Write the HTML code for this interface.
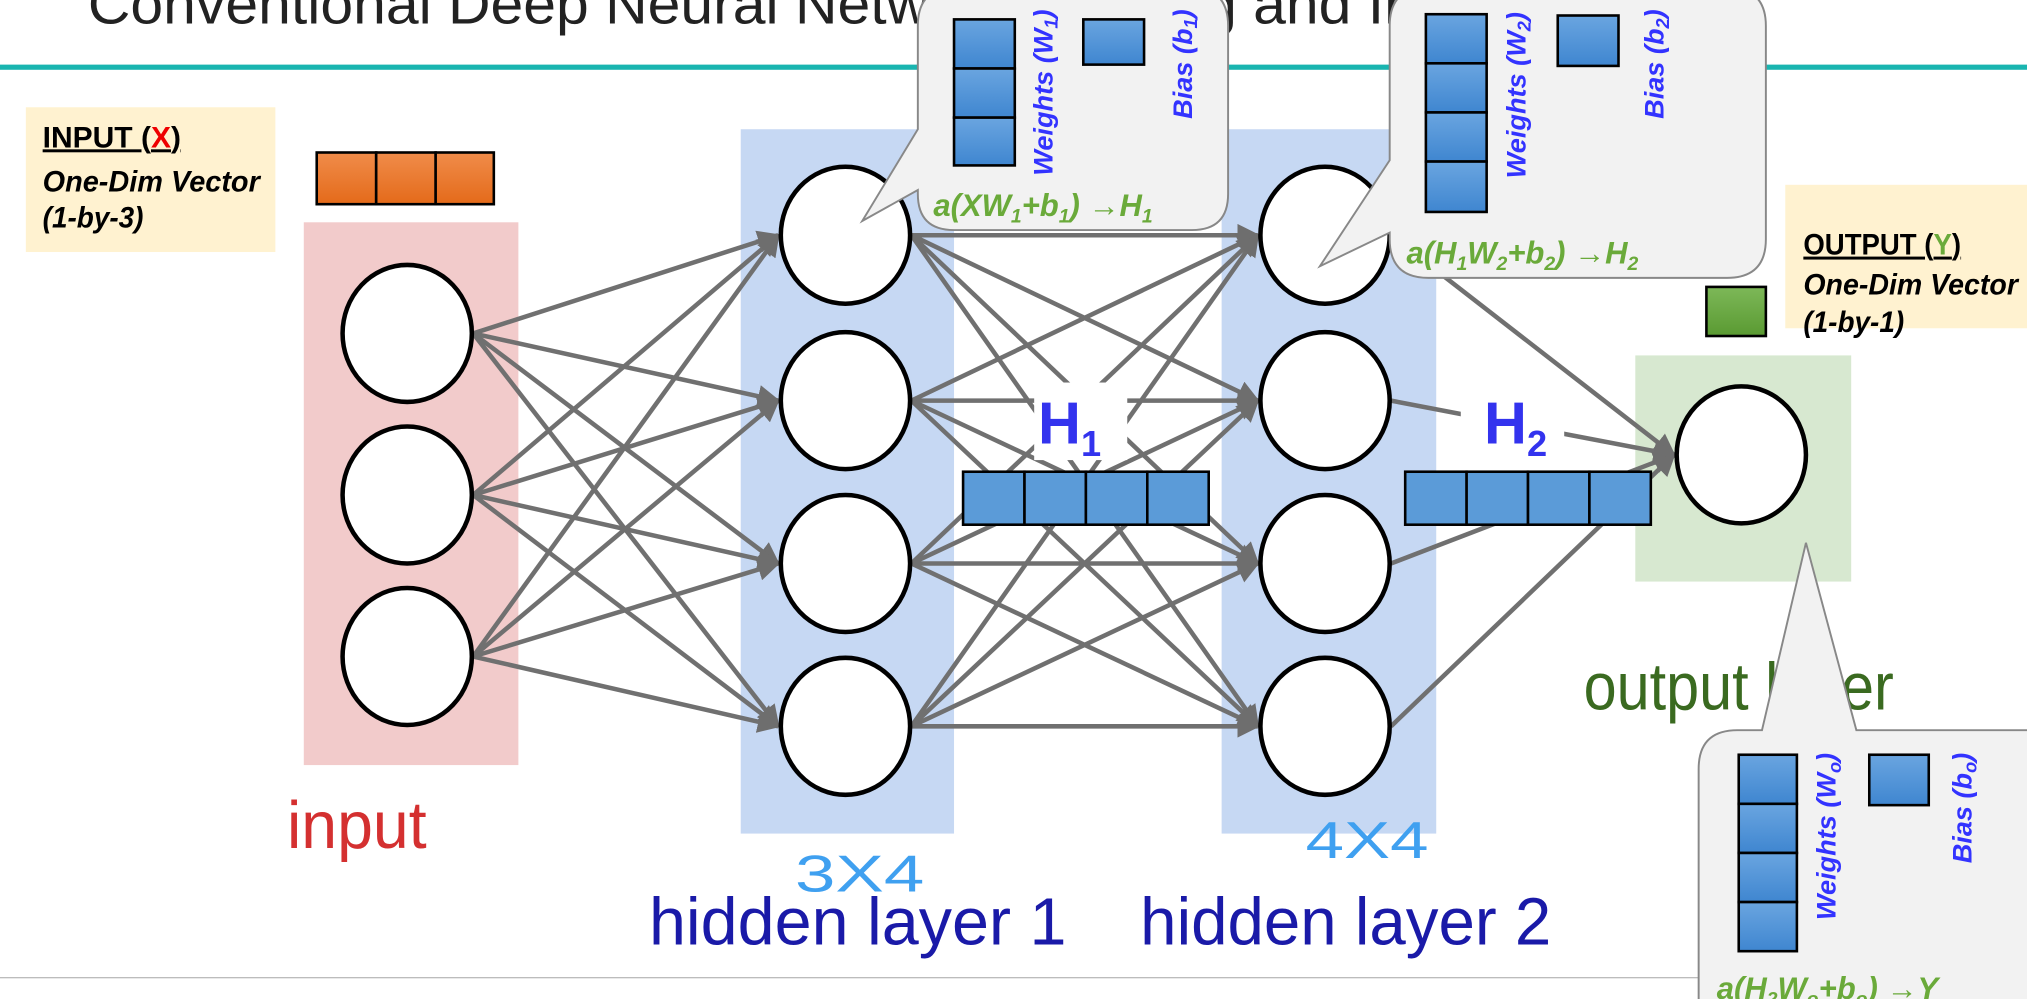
<!DOCTYPE html>
<html><head><meta charset="utf-8"><style>html,body{margin:0;padding:0;background:#fff;overflow:hidden}</style></head>
<body>
<svg width="2027" height="999" viewBox="0 0 1568 773" preserveAspectRatio="none" xmlns="http://www.w3.org/2000/svg" font-family="Liberation Sans, sans-serif">
<defs>
<marker id="ar" viewBox="0 0 10 10" refX="9" refY="5" markerWidth="5" markerHeight="5" orient="auto" markerUnits="strokeWidth"><path d="M0,0 L10,5 L0,10 z" fill="#6e6e6e"/></marker>
<linearGradient id="bl" x1="0" y1="0" x2="0" y2="1"><stop offset="0" stop-color="#6aa5e0"/><stop offset="1" stop-color="#3f86d0"/></linearGradient>
<linearGradient id="or" x1="0" y1="0" x2="0" y2="1"><stop offset="0" stop-color="#f08c4a"/><stop offset="1" stop-color="#e46a1a"/></linearGradient>
<linearGradient id="gr" x1="0" y1="0" x2="0" y2="1"><stop offset="0" stop-color="#7db858"/><stop offset="1" stop-color="#5a9a32"/></linearGradient>
</defs>
<text x="68" y="18" font-size="44" fill="#222" textLength="1180" lengthAdjust="spacingAndGlyphs">Conventional Deep Neural Network Training and Inference</text>
<rect x="0" y="50" width="1568" height="4" fill="#19b5b0"/>
<rect x="0" y="756" width="1568" height="1" fill="#bbb"/>
<rect x="235" y="172" width="166" height="420" fill="#f2cbcb"/>
<rect x="573" y="100" width="165" height="545" fill="#c6d8f3"/>
<rect x="945" y="100" width="166" height="545" fill="#c6d8f3"/>
<rect x="1265" y="275" width="167" height="175" fill="#d7e8d0"/>
<g stroke="#707070" stroke-width="3.5" marker-end="url(#ar)" fill="none">
<line x1="366" y1="258" x2="602" y2="182"/><line x1="366" y1="258" x2="602" y2="310"/><line x1="366" y1="258" x2="602" y2="436"/><line x1="366" y1="258" x2="602" y2="562"/>
<line x1="366" y1="383" x2="602" y2="182"/><line x1="366" y1="383" x2="602" y2="310"/><line x1="366" y1="383" x2="602" y2="436"/><line x1="366" y1="383" x2="602" y2="562"/>
<line x1="366" y1="508" x2="602" y2="182"/><line x1="366" y1="508" x2="602" y2="310"/><line x1="366" y1="508" x2="602" y2="436"/><line x1="366" y1="508" x2="602" y2="562"/>
<line x1="705" y1="182" x2="973" y2="182"/><line x1="705" y1="182" x2="973" y2="310"/><line x1="705" y1="182" x2="973" y2="436"/><line x1="705" y1="182" x2="973" y2="562"/>
<line x1="705" y1="310" x2="973" y2="182"/><line x1="705" y1="310" x2="973" y2="310"/><line x1="705" y1="310" x2="973" y2="436"/><line x1="705" y1="310" x2="973" y2="562"/>
<line x1="705" y1="436" x2="973" y2="182"/><line x1="705" y1="436" x2="973" y2="310"/><line x1="705" y1="436" x2="973" y2="436"/><line x1="705" y1="436" x2="973" y2="562"/>
<line x1="705" y1="562" x2="973" y2="182"/><line x1="705" y1="562" x2="973" y2="310"/><line x1="705" y1="562" x2="973" y2="436"/><line x1="705" y1="562" x2="973" y2="562"/>
<line x1="1076" y1="182" x2="1295" y2="352"/><line x1="1076" y1="310" x2="1295" y2="352"/><line x1="1076" y1="436" x2="1295" y2="352"/><line x1="1076" y1="562" x2="1295" y2="352"/>
</g>
<g fill="#fff" stroke="#000" stroke-width="3.5">
<ellipse cx="315" cy="258" rx="50" ry="53"/><ellipse cx="315" cy="383" rx="50" ry="53"/><ellipse cx="315" cy="508" rx="50" ry="53"/>
<ellipse cx="654" cy="182" rx="50" ry="53"/><ellipse cx="654" cy="310" rx="50" ry="53"/><ellipse cx="654" cy="436" rx="50" ry="53"/><ellipse cx="654" cy="562" rx="50" ry="53"/>
<ellipse cx="1025" cy="182" rx="50" ry="53"/><ellipse cx="1025" cy="310" rx="50" ry="53"/><ellipse cx="1025" cy="436" rx="50" ry="53"/><ellipse cx="1025" cy="562" rx="50" ry="53"/>
<ellipse cx="1347" cy="352" rx="50" ry="53"/>
</g>
<text x="222" y="656" font-size="52" fill="#d43030" textLength="108" lengthAdjust="spacingAndGlyphs">input</text>
<text x="502" y="731" font-size="52" fill="#1a1aa8" textLength="323" lengthAdjust="spacingAndGlyphs">hidden layer 1</text>
<text x="882" y="731" font-size="52" fill="#1a1aa8" textLength="318" lengthAdjust="spacingAndGlyphs">hidden layer 2</text>
<text x="1225" y="549" font-size="52" fill="#3a6a20" textLength="240" lengthAdjust="spacingAndGlyphs">output layer</text>
<text x="615" y="690" font-size="40" fill="#3fa0f0" textLength="100" lengthAdjust="spacingAndGlyphs">3X4</text>
<text x="1010" y="664" font-size="40" fill="#3fa0f0" textLength="95" lengthAdjust="spacingAndGlyphs">4X4</text>
<rect x="800" y="296" width="72" height="60" fill="#fff"/>
<text x="803" y="343" font-size="46" font-weight="bold" fill="#3333ee">H<tspan font-size="28" dy="10">1</tspan></text>
<rect x="1130" y="296" width="80" height="60" fill="#fff"/>
<text x="1148" y="343" font-size="46" font-weight="bold" fill="#3333ee">H<tspan font-size="28" dy="10">2</tspan></text>
<g fill="#5b9bd8" stroke="#000" stroke-width="2">
<rect x="745" y="365" width="47.5" height="41"/><rect x="792.5" y="365" width="47.5" height="41"/><rect x="840" y="365" width="47.5" height="41"/><rect x="887.5" y="365" width="47.5" height="41"/>
<rect x="1087" y="365" width="47.5" height="41"/><rect x="1134.5" y="365" width="47.5" height="41"/><rect x="1182" y="365" width="47.5" height="41"/><rect x="1229.5" y="365" width="47.5" height="41"/>
</g>
<rect x="20" y="83" width="193" height="112" fill="#fff2d0"/>
<g font-size="23" font-weight="bold" fill="#000">
<text x="33" y="114" text-decoration="underline" textLength="107" lengthAdjust="spacingAndGlyphs">INPUT (<tspan fill="#e00">X</tspan>)</text>
<text x="33" y="148" font-style="italic" textLength="168" lengthAdjust="spacingAndGlyphs">One-Dim Vector</text>
<text x="33" y="176" font-style="italic" textLength="78" lengthAdjust="spacingAndGlyphs">(1-by-3)</text>
</g>
<g stroke="#000" stroke-width="2" fill="url(#or)">
<rect x="245" y="118" width="46" height="40"/><rect x="291" y="118" width="46" height="40"/><rect x="337" y="118" width="45" height="40"/>
</g>
<rect x="1381" y="143" width="190" height="111" fill="#fff2d0"/>
<g font-size="23" font-weight="bold" fill="#000">
<text x="1395" y="197" text-decoration="underline" textLength="122" lengthAdjust="spacingAndGlyphs">OUTPUT (<tspan fill="#6aaa3a">Y</tspan>)</text>
<text x="1395" y="228" font-style="italic" textLength="166" lengthAdjust="spacingAndGlyphs">One-Dim Vector</text>
<text x="1395" y="257" font-style="italic" textLength="78" lengthAdjust="spacingAndGlyphs">(1-by-1)</text>
</g>
<rect x="1320" y="222" width="46" height="38" fill="url(#gr)" stroke="#000" stroke-width="2"/>
<path d="M740,-10 H920 Q950,-10 950,20 V150 Q950,178 922,178 H738 Q710,178 710,150 V147 L667,171 L710,100 V20 Q710,-10 740,-10 Z" fill="#f2f2f2" stroke="#888" stroke-width="1.5"/>
<g fill="url(#bl)" stroke="#000" stroke-width="2">
<rect x="738" y="15" width="47" height="38"/><rect x="738" y="53" width="47" height="38"/><rect x="738" y="91" width="47" height="37"/>
<rect x="838" y="15" width="47" height="35"/>
</g>
<g font-size="21" font-weight="bold" font-style="italic" fill="#3333ff">
<text transform="translate(814,136) rotate(-90)">Weights (W<tspan font-size="14" dy="4">1</tspan><tspan dy="-4">)</tspan></text>
<text transform="translate(922,92) rotate(-90)">Bias (b<tspan font-size="14" dy="4">1</tspan><tspan dy="-4">)</tspan></text>
</g>
<text x="722" y="167" font-size="24" font-weight="bold" font-style="italic" fill="#6aaa3a">a(XW<tspan font-size="15" dy="5">1</tspan><tspan dy="-5">+b</tspan><tspan font-size="15" dy="5">1</tspan><tspan dy="-5">) →H</tspan><tspan font-size="15" dy="5">1</tspan></text>
<path d="M1105,-10 H1335 Q1366,-10 1366,20 V185 Q1366,215 1336,215 H1105 Q1075,215 1075,185 V180 L1021,206 L1075,124 V20 Q1075,-10 1105,-10 Z" fill="#f2f2f2" stroke="#888" stroke-width="1.5"/>
<g fill="url(#bl)" stroke="#000" stroke-width="2">
<rect x="1103" y="11" width="47" height="38"/><rect x="1103" y="49" width="47" height="38"/><rect x="1103" y="87" width="47" height="38"/><rect x="1103" y="125" width="47" height="39"/>
<rect x="1205" y="12" width="47" height="39"/>
</g>
<g font-size="21" font-weight="bold" font-style="italic" fill="#3333ff">
<text transform="translate(1180,138) rotate(-90)">Weights (W<tspan font-size="14" dy="4">2</tspan><tspan dy="-4">)</tspan></text>
<text transform="translate(1287,92) rotate(-90)">Bias (b<tspan font-size="14" dy="4">2</tspan><tspan dy="-4">)</tspan></text>
</g>
<text x="1088" y="204" font-size="24" font-weight="bold" font-style="italic" fill="#6aaa3a">a(H<tspan font-size="15" dy="5">1</tspan><tspan dy="-5">W</tspan><tspan font-size="15" dy="5">2</tspan><tspan dy="-5">+b</tspan><tspan font-size="15" dy="5">2</tspan><tspan dy="-5">) →H</tspan><tspan font-size="15" dy="5">2</tspan></text>
<path d="M1363,565 L1397,420 L1436,565 H1590 V800 H1314 V595 Q1314,565 1344,565 Z" fill="#f2f2f2" stroke="#888" stroke-width="1.5"/>
<g fill="url(#bl)" stroke="#000" stroke-width="2">
<rect x="1345" y="584" width="45" height="38"/><rect x="1345" y="622" width="45" height="38"/><rect x="1345" y="660" width="45" height="38"/><rect x="1345" y="698" width="45" height="38"/>
<rect x="1446" y="584" width="46" height="39"/>
</g>
<g font-size="21" font-weight="bold" font-style="italic" fill="#3333ff">
<text transform="translate(1420,712) rotate(-90)">Weights (W<tspan font-size="14" dy="4">o</tspan><tspan dy="-4">)</tspan></text>
<text transform="translate(1525,668) rotate(-90)">Bias (b<tspan font-size="14" dy="4">o</tspan><tspan dy="-4">)</tspan></text>
</g>
<text x="1328" y="773" font-size="24" font-weight="bold" font-style="italic" fill="#6aaa3a">a(H<tspan font-size="15" dy="5">2</tspan><tspan dy="-5">W</tspan><tspan font-size="15" dy="5">o</tspan><tspan dy="-5">+b</tspan><tspan font-size="15" dy="5">o</tspan><tspan dy="-5">) →Y</tspan></text>
</svg>
</body></html>
